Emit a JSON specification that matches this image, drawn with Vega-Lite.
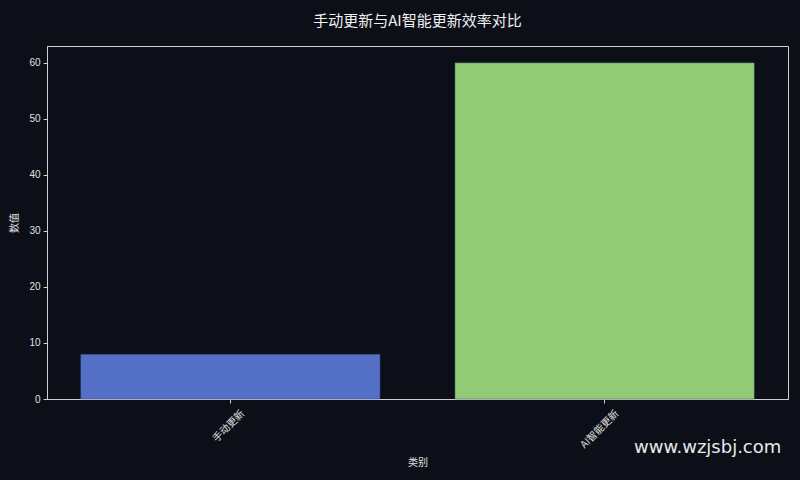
{
  "$schema": "https://vega.github.io/schema/vega-lite/v6.json",
  "autosize": {"type": "none"},
  "padding": {"left": 47, "top": 46, "right": 12, "bottom": 81},
  "width": 741,
  "height": 353,
  "background": "#0c0f17",
  "title": {
    "text": "手动更新与AI智能更新效率对比",
    "font": "Noto Sans CJK SC",
    "fontSize": 15,
    "fontWeight": "normal",
    "color": "#f0f0f0",
    "anchor": "middle",
    "offset": 17
  },
  "config": {
    "font": "Noto Sans CJK SC",
    "view": {"stroke": "#d0d0d0", "strokeWidth": 1}
  },
  "data": {
    "values": [
      {"category": "手动更新", "value": 8, "color": "#5470c6"},
      {"category": "AI智能更新", "value": 60, "color": "#91cc75"}
    ]
  },
  "layer": [
    {
      "mark": {"type": "bar", "stroke": "#2a3a6a", "strokeWidth": 0.5, "strokeOpacity": 0.8},
      "encoding": {
        "x": {
          "field": "category",
          "type": "nominal",
          "sort": null,
          "scale": {"paddingInner": 0.2, "paddingOuter": 0.09},
          "title": "类别",
          "axis": {
            "labelAngle": -45,
            "labelAlign": "right",
            "labelBaseline": "top",
            "labelColor": "#e0e0e0",
            "labelFontSize": 10,
            "labelFont": "Noto Sans CJK SC",
            "labelOffset": 9,
            "titleColor": "#e0e0e0",
            "titleFontSize": 10,
            "titleFontWeight": "normal",
            "titleFont": "Noto Sans CJK SC",
            "titlePadding": 8,
            "domainColor": "#d0d0d0",
            "tickColor": "#d0d0d0",
            "tickSize": 4,
            "labelPadding": 5
          }
        },
        "y": {
          "field": "value",
          "type": "quantitative",
          "scale": {"domain": [0, 63], "nice": false},
          "title": "数值",
          "axis": {
            "values": [0, 10, 20, 30, 40, 50, 60],
            "grid": false,
            "labelColor": "#e0e0e0",
            "labelFontSize": 10,
            "labelFont": "Liberation Sans",
            "titleColor": "#e0e0e0",
            "titleFontSize": 10,
            "titleFontWeight": "normal",
            "titleFont": "Noto Sans CJK SC",
            "titlePadding": 9,
            "domainColor": "#d0d0d0",
            "tickColor": "#d0d0d0",
            "tickSize": 4,
            "labelPadding": 3
          }
        },
        "color": {"field": "color", "type": "nominal", "scale": null}
      }
    },
    {
      "data": {"values": [{"category": "AI智能更新", "value": -8.8, "label": "www.wzjsbj.com"}]},
      "mark": {
        "type": "text",
        "font": "DejaVu Sans",
        "fontSize": 18,
        "color": "#e8e8e8",
        "dx": 103,
        "clip": false
      },
      "encoding": {
        "x": {"field": "category", "type": "nominal", "sort": null},
        "y": {"field": "value", "type": "quantitative"},
        "text": {"field": "label"}
      }
    }
  ]
}
